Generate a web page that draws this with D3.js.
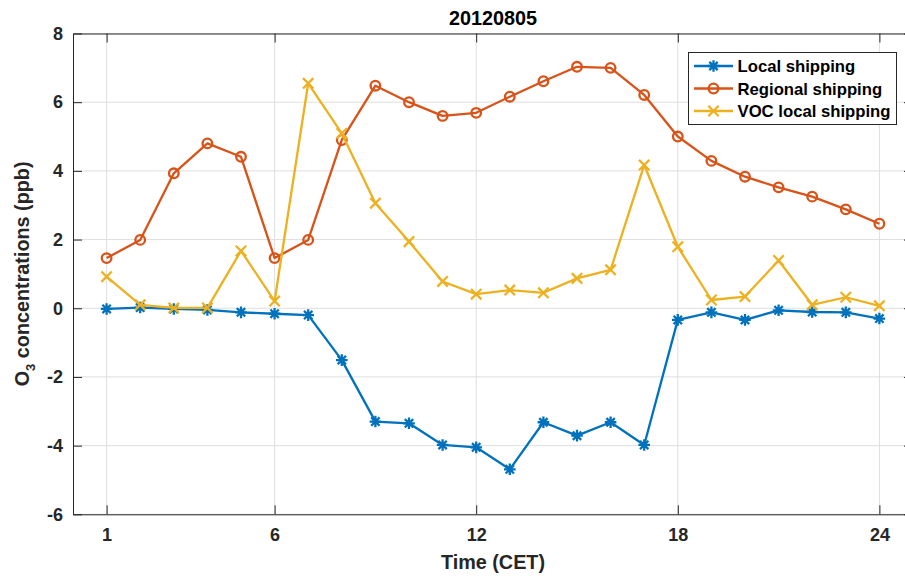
<!DOCTYPE html>
<html>
<head>
<meta charset="utf-8">
<script src="https://cdn.jsdelivr.net/npm/d3@7"></script>
<style>
  body { margin: 0; background: #fff; }
  text { font-family: "Liberation Sans", Arial, sans-serif; font-weight: bold; }
</style>
</head>
<body>
<div id="chart"></div>
<script>
// ── data ─────────────────────────────────────────────────────
const hours = d3.range(1, 25);
const localShipping = [-0.02, 0.02, -0.02, -0.05, -0.12, -0.16, -0.20, -1.51, -3.30, -3.35, -3.98, -4.05,
  -4.69, -3.32, -3.71, -3.32, -3.98, -0.34, -0.12, -0.34, -0.06, -0.11, -0.12, -0.30];
const regionalShipping = [1.46, 1.99, 3.93, 4.80, 4.41, 1.46, 1.99, 4.90, 6.48, 6.00, 5.60, 5.69,
  6.16, 6.61, 7.03, 7.00, 6.21, 5.00, 4.29, 3.83, 3.52, 3.25, 2.88, 2.46];
const vocLocalShipping = [0.92, 0.10, 0.01, 0.01, 1.67, 0.21, 6.55, 5.09, 3.06, 1.94, 0.78, 0.41,
  0.53, 0.45, 0.87, 1.12, 4.17, 1.79, 0.24, 0.34, 1.39, 0.10, 0.32, 0.07];
const xTicks = [1, 6, 12, 18, 24];
const yTicks = [-6, -4, -2, 0, 2, 4, 6, 8];

const series = [
  { name: "Local shipping", values: localShipping, color: "#0072BD", marker: "star" },
  { name: "Regional shipping", values: regionalShipping, color: "#D95319", marker: "circle" },
  { name: "VOC local shipping", values: vocLocalShipping, color: "#EDB120", marker: "cross" }
];

// ── layout ───────────────────────────────────────────────────
const W = 905, H = 576;
const box = { left: 73, right: 913, top: 33.5, bottom: 514.3 };
const axisColor = "#262626";
const lw = 2.3;

const svg = d3.select("#chart").append("svg")
  .attr("width", W).attr("height", H);

const x = d3.scaleLinear().domain([0, 25]).range([box.left, box.right]);
const y = d3.scaleLinear().domain([-6, 8]).range([box.bottom, box.top]);

// grid
const grid = svg.append("g");
grid.selectAll(".gx").data(xTicks).join("line")
  .attr("x1", d => x(d)).attr("x2", d => x(d))
  .attr("y1", box.top).attr("y2", box.bottom)
  .attr("stroke", "#dfdfdf").attr("stroke-width", 1);
grid.selectAll(".gy").data(yTicks).join("line")
  .attr("x1", box.left).attr("x2", box.right)
  .attr("y1", d => y(d)).attr("y2", d => y(d))
  .attr("stroke", "#dfdfdf").attr("stroke-width", 1);

// axes (ticks pointing inward like MATLAB)
function styleAxis(sel) {
  sel.select(".domain").attr("stroke", axisColor);
  sel.selectAll(".tick line").attr("stroke", axisColor);
  sel.selectAll(".tick text").attr("fill", axisColor)
    .style("font-size", "18px").style("font-family", "'Liberation Sans', Arial, sans-serif")
    .style("font-weight", "bold");
}
const plain = d => String(d); // hyphen-minus, as in the figure

svg.append("g").attr("transform", `translate(0,${box.bottom})`)
  .call(d3.axisBottom(x).tickValues(xTicks).tickSizeInner(-9).tickSizeOuter(0).tickPadding(13.5).tickFormat(plain))
  .call(styleAxis);
svg.append("g").attr("transform", `translate(0,${box.top})`)
  .call(d3.axisTop(x).tickValues(xTicks).tickSizeInner(-9).tickSizeOuter(0).tickFormat(""))
  .call(styleAxis);
svg.append("g").attr("transform", `translate(${box.left},0)`)
  .call(d3.axisLeft(y).tickValues(yTicks).tickSizeInner(-9).tickSizeOuter(0).tickPadding(10).tickFormat(plain))
  .call(styleAxis);
svg.append("g").attr("transform", `translate(${box.right},0)`)
  .call(d3.axisRight(y).tickValues(yTicks).tickSizeInner(-9).tickSizeOuter(0).tickFormat(""))
  .call(styleAxis);

// markers
function drawMarker(g, type, color) {
  if (type === "circle") {
    g.append("circle").attr("r", 4.8).attr("fill", "none")
      .attr("stroke", color).attr("stroke-width", lw);
  } else if (type === "cross") {
    const s = 5.2;
    g.append("path").attr("d", `M${-s},${-s}L${s},${s}M${-s},${s}L${s},${-s}`)
      .attr("stroke", color).attr("stroke-width", lw).attr("fill", "none");
  } else {
    const s = 5.8, d = s * 0.72;
    g.append("path")
      .attr("d", `M${-s},0L${s},0M0,${-s}L0,${s}M${-d},${-d}L${d},${d}M${-d},${d}L${d},${-d}`)
      .attr("stroke", color).attr("stroke-width", lw).attr("fill", "none");
  }
}

const line = d3.line().x((d, i) => x(hours[i])).y(d => y(d));

series.forEach(s => {
  const g = svg.append("g");
  g.append("path").attr("d", line(s.values))
    .attr("fill", "none").attr("stroke", s.color).attr("stroke-width", lw)
    .attr("stroke-linejoin", "round");
  s.values.forEach((v, i) => {
    const m = g.append("g").attr("transform", `translate(${x(hours[i])},${y(v)})`);
    drawMarker(m, s.marker, s.color);
  });
});

// title and labels
const cx = (box.left + box.right) / 2;
svg.append("text").attr("x", cx).attr("y", 25)
  .attr("text-anchor", "middle").attr("fill", "#000")
  .style("font-size", "19.8px").text("20120805");

svg.append("text").attr("x", cx).attr("y", 569)
  .attr("text-anchor", "middle").attr("fill", axisColor)
  .style("font-size", "19.8px").text("Time (CET)");

const yl = svg.append("text")
  .attr("transform", `translate(29,${(box.top + box.bottom) / 2}) rotate(-90)`)
  .attr("text-anchor", "middle").attr("fill", axisColor)
  .style("font-size", "19.8px");
yl.append("tspan").text("O");
yl.append("tspan").attr("dy", 6).style("font-size", "13px").text("3");
yl.append("tspan").attr("dy", -6).text(" concentrations (ppb)");

// legend
const legend = svg.append("g");
legend.append("rect").attr("x", 688.5).attr("y", 52.5).attr("width", 208).attr("height", 72)
  .attr("fill", "#fff").attr("stroke", axisColor).attr("stroke-width", 1);
series.forEach((s, i) => {
  const cy = 66 + i * 22.5;
  const row = legend.append("g");
  row.append("line").attr("x1", 694).attr("x2", 733).attr("y1", cy).attr("y2", cy)
    .attr("stroke", s.color).attr("stroke-width", lw);
  drawMarker(row.append("g").attr("transform", `translate(713.5,${cy})`), s.marker, s.color);
  row.append("text").attr("x", 737.5).attr("y", cy + 6).attr("fill", "#000")
    .style("font-size", "16.7px").text(s.name);
});
</script>
</body>
</html>
